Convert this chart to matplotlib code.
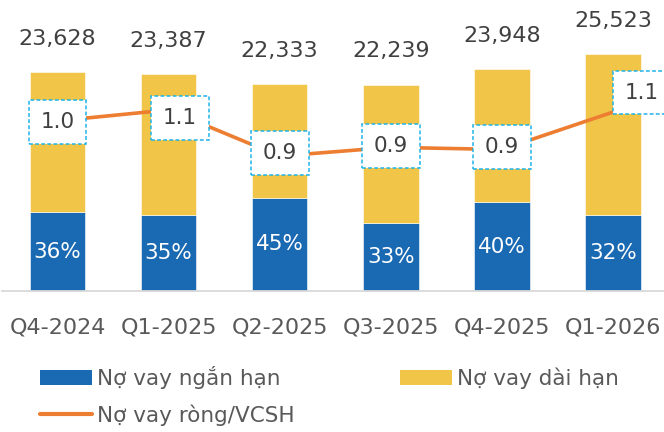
import matplotlib
matplotlib.use("Agg")
import matplotlib.pyplot as plt
from matplotlib.patches import Patch
from matplotlib.lines import Line2D

# ---------------------------------------------------------------
# data
# ---------------------------------------------------------------
quarters = ['Q4-2024', 'Q1-2025', 'Q2-2025', 'Q3-2025', 'Q4-2025', 'Q1-2026']
total_debt = [23628, 23387, 22333, 22239, 23948, 25523]
short_share = [36, 35, 45, 33, 40, 32]          # % of total debt that is short term
net_debt_equity = [1.03, 1.08, 0.87, 0.91, 0.90, 1.07]

# label offsets (points) for the ratio boxes
ratio_offsets = [(0, -1), (8, -6), (0, 2), (0, 1), (0, 2), (21, 14)]

BLUE = '#1A69B3'
YELLOW = '#F0C548'
ORANGE = '#ED7D31'
BOX_EDGE = '#1FB3E8'
DARK = '#404040'
GREY = '#595959'

plt.rcParams['font.family'] = ['DejaVu Sans']

short_debt = [t * p / 100 for t, p in zip(total_debt, short_share)]
long_debt = [t - s for t, s in zip(total_debt, short_debt)]
x = list(range(len(quarters)))

fig = plt.figure(figsize=(6.64, 4.32), dpi=100)
ax = fig.add_axes([2 / 664, 141 / 432, 662 / 664, 281 / 432])

ax.bar(x, short_debt, width=0.5, color=BLUE, edgecolor='white', linewidth=0.4, zorder=2)
ax.bar(x, long_debt, width=0.5, bottom=short_debt, color=YELLOW,
       edgecolor='white', linewidth=0.4, zorder=2)

# short-term share inside blue segment
for xi, s, p in zip(x, short_debt, short_share):
    ax.text(xi, s / 2, f'{p}%', ha='center', va='center', color='white', fontsize=15.5)

# totals above bars
for xi, t in zip(x, total_debt):
    ax.annotate(f'{t:,}', (xi, t), xytext=(0, 24), textcoords='offset points',
                ha='center', va='center', color=DARK, fontsize=16, annotation_clip=False)

ax.set_xlim(-0.5, 5.46)
ax.set_ylim(0, 30310)
ax.set_yticks([])
ax.set_xticks(x)
ax.set_xticklabels(quarters, fontsize=16, color=GREY)
ax.tick_params(axis='x', length=0, pad=19)
for side in ['top', 'left', 'right']:
    ax.spines[side].set_visible(False)
ax.spines['bottom'].set_color('#D9D9D9')
ax.spines['bottom'].set_linewidth(1.3)

# net debt / equity line on secondary axis
ax2 = ax.twinx()
ax2.plot(x, net_debt_equity, color=ORANGE, linewidth=2.6, solid_capstyle='round', zorder=3)
ax2.set_ylim(0.257, 1.534)
ax2.set_yticks([])
for side in ['top', 'left', 'right', 'bottom']:
    ax2.spines[side].set_visible(False)

for xi, v, off in zip(x, net_debt_equity, ratio_offsets):
    ax2.annotate(f'{v:.1f}', (xi, v), xytext=off, textcoords='offset points',
                 ha='center', va='center', color=DARK, fontsize=15.5, zorder=4,
                 annotation_clip=False,
                 bbox=dict(boxstyle='square,pad=0.55', facecolor='white',
                           edgecolor=BOX_EDGE, linestyle=(0, (2.5, 1.5)), linewidth=1.1))

# legend
handles = [Patch(facecolor=BLUE, edgecolor='none'),
           Line2D([0], [0], color=ORANGE, linewidth=3, solid_capstyle='round'),
           Patch(facecolor=YELLOW, edgecolor='none')]
labels = ['Nợ vay ngắn hạn', 'Nợ vay ròng/VCSH', 'Nợ vay dài hạn']
leg = fig.legend(handles, labels, ncol=2, loc='upper left',
                 bbox_to_anchor=(40 / 664, 1 - 366 / 432), frameon=False,
                 fontsize=15.5, handlelength=2.4, handleheight=0.75,
                 handletextpad=0.25, labelspacing=0.7, columnspacing=4.9,
                 borderpad=0, borderaxespad=0)
for t in leg.get_texts():
    t.set_color(GREY)

fig.savefig('out.png', dpi=100, facecolor='white')
